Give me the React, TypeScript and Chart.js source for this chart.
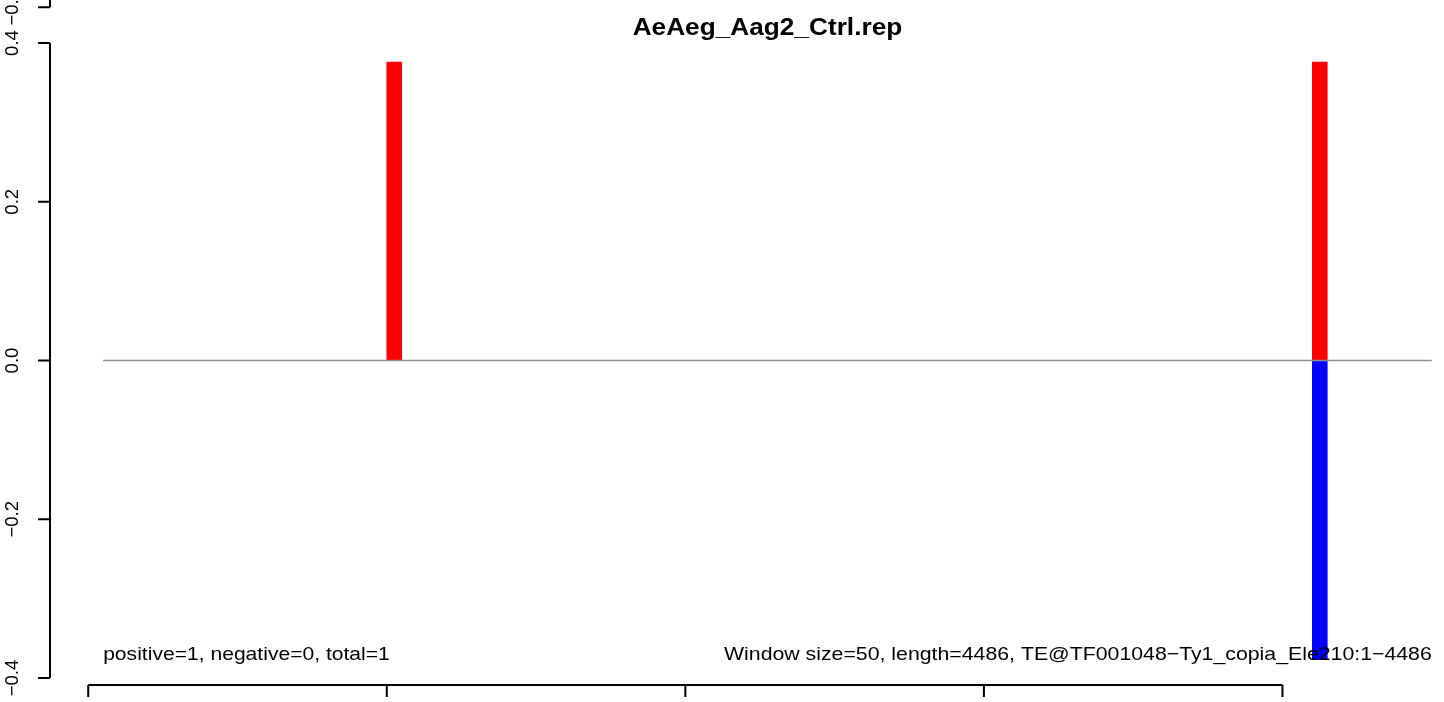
import React, { useEffect, useRef } from "react";
import { Chart, registerables } from "chart.js";

Chart.register(...registerables);

// ---- data ----
const TITLE = "AeAeg_Aag2_Ctrl.rep";
const WINDOW_SIZE = 50;
const TE_LENGTH = 4486;
const WINDOW_FIRST = 0;
const WINDOW_LAST = 4450;
const POS_WINDOWS = [1000, 4100];
const POS_VALUES = [0.376, 0.376];
const NEG_WINDOWS = [4100];
const NEG_VALUES = [-0.377];
const X_TICKS = [0, 1000, 2000, 3000, 4000];
const Y_TICKS = [-0.4, -0.2, 0, 0.2, 0.4];
const Y_TICK_LABELS = ["\u22120.4", "\u22120.2", "0.0", "0.2", "0.4"];
const GHOST_TICK = [0.445];
const GHOST_TICK_LABEL = ["\u22120.4"];
const LEFT_NOTE = "positive=1, negative=0, total=1";
const RIGHT_NOTE = `Window size=${WINDOW_SIZE}, length=${TE_LENGTH}, TE@TF001048\u2212Ty1_copia_Ele210:1\u22124486`;
const ZERO_LINE_FROM = 50;
const ZERO_LINE_TO = 4500;
const NOTE_Y = -0.377;

// axis ranges (R-like usr with 4% extension of xlim 50..4500)
const X_MIN = -128;
const X_MAX = 4541;
const X_CENTER = 2275;
const Y_MIN = -0.4088;
const Y_MAX = 0.4542;

const FONT = "'Liberation Sans', Arial, Helvetica, sans-serif";
const SX = 1.14;

function buildSeries(wins: number[], vals: number[]) {
  const out: { x: number; y: number | null }[] = [];
  for (let w = WINDOW_FIRST; w <= WINDOW_LAST; w += WINDOW_SIZE) {
    const i = wins.indexOf(w);
    out.push({ x: w + WINDOW_SIZE / 2, y: i >= 0 ? vals[i] : null });
  }
  return out;
}

const rAxesPlugin = {
  id: "rAxes",
  afterDraw(chart: any) {
    const ctx = chart.ctx as CanvasRenderingContext2D;
    const xs = chart.scales.x;
    const ys = chart.scales.y;
    const area = chart.chartArea;
    ctx.save();
    // zero line
    ctx.strokeStyle = "#8f8f8f";
    ctx.lineWidth = 1.5;
    ctx.beginPath();
    ctx.moveTo(xs.getPixelForValue(ZERO_LINE_FROM), ys.getPixelForValue(0));
    ctx.lineTo(xs.getPixelForValue(ZERO_LINE_TO), ys.getPixelForValue(0));
    ctx.stroke();

    ctx.strokeStyle = "#000";
    ctx.fillStyle = "#000";
    ctx.lineWidth = 2;
    const ax = area.left;
    const tickLen = 12;
    // y axis
    ctx.beginPath();
    ctx.moveTo(ax, ys.getPixelForValue(Y_TICKS[0]));
    ctx.lineTo(ax, ys.getPixelForValue(Y_TICKS[Y_TICKS.length - 1]));
    Y_TICKS.forEach((t) => {
      const py = ys.getPixelForValue(t);
      ctx.moveTo(ax, py);
      ctx.lineTo(ax - tickLen, py);
    });
    // tick of the neighbouring panel above
    GHOST_TICK.forEach((t) => {
      const py = ys.getPixelForValue(t);
      ctx.moveTo(ax, py);
      ctx.lineTo(ax, -5);
      ctx.moveTo(ax, py);
      ctx.lineTo(ax - tickLen, py);
    });
    // x axis
    const bx = area.bottom;
    ctx.moveTo(xs.getPixelForValue(X_TICKS[0]), bx);
    ctx.lineTo(xs.getPixelForValue(X_TICKS[X_TICKS.length - 1]), bx);
    X_TICKS.forEach((t) => {
      const px = xs.getPixelForValue(t);
      ctx.moveTo(px, bx);
      ctx.lineTo(px, bx + tickLen);
    });
    ctx.stroke();

    // y labels (rotated)
    ctx.font = `18.5px ${FONT}`;
    ctx.textAlign = "center";
    ctx.textBaseline = "alphabetic";
    const drawRot = (label: string, v: number) => {
      ctx.save();
      ctx.translate(17.5, ys.getPixelForValue(v));
      ctx.rotate(-Math.PI / 2);
      ctx.fillText(label, 0, 0);
      ctx.restore();
    };
    Y_TICKS.forEach((t, i) => drawRot(Y_TICK_LABELS[i], t));
    GHOST_TICK.forEach((t, i) => drawRot(GHOST_TICK_LABEL[i], t));

    const drawH = (text: string, x: number, y: number, align: CanvasTextAlign, sx: number) => {
      ctx.save();
      ctx.translate(x, y);
      ctx.scale(sx, 1);
      ctx.textAlign = align;
      ctx.fillText(text, 0, 0);
      ctx.restore();
    };
    // notes
    ctx.font = `18.5px ${FONT}`;
    drawH(LEFT_NOTE, xs.getPixelForValue(ZERO_LINE_FROM), ys.getPixelForValue(NOTE_Y), "left", SX);
    drawH(RIGHT_NOTE, xs.getPixelForValue(ZERO_LINE_TO), ys.getPixelForValue(NOTE_Y), "right", SX * 1.009);
    // title
    ctx.font = `bold 23px ${FONT}`;
    drawH(TITLE, xs.getPixelForValue(X_CENTER), 35, "center", SX);
    ctx.restore();
  },
};

export default function App() {
  const ref = useRef<HTMLCanvasElement | null>(null);
  useEffect(() => {
    if (!ref.current) return;
    const chart = new Chart(ref.current, {
      type: "bar",
      data: {
        datasets: [
          {
            label: "positive",
            data: buildSeries(POS_WINDOWS, POS_VALUES),
            backgroundColor: "#ff0000",
            borderWidth: 0,
            grouped: false,
            barPercentage: 1,
            categoryPercentage: 1,
          } as any,
          {
            label: "negative",
            data: buildSeries(NEG_WINDOWS, NEG_VALUES),
            backgroundColor: "#0000ff",
            borderWidth: 0,
            grouped: false,
            barPercentage: 1,
            categoryPercentage: 1,
          } as any,
        ],
      },
      options: {
        animation: false,
        responsive: false,
        layout: { padding: { left: 50, right: 0, top: 0, bottom: 17 } },
        plugins: { legend: { display: false }, tooltip: { enabled: false }, title: { display: false } },
        scales: {
          x: { type: "linear", min: X_MIN, max: X_MAX, display: false, offset: false },
          y: { type: "linear", min: Y_MIN, max: Y_MAX, display: false },
        },
      },
      plugins: [rAxesPlugin],
    });
    return () => chart.destroy();
  }, []);
  return (
    <div style={{ position: "fixed", left: 0, top: 0, width: 1444, height: 702, background: "#fff" }}>
      <canvas ref={ref} width={1444} height={702} style={{ display: "block" }} />
    </div>
  );
}
